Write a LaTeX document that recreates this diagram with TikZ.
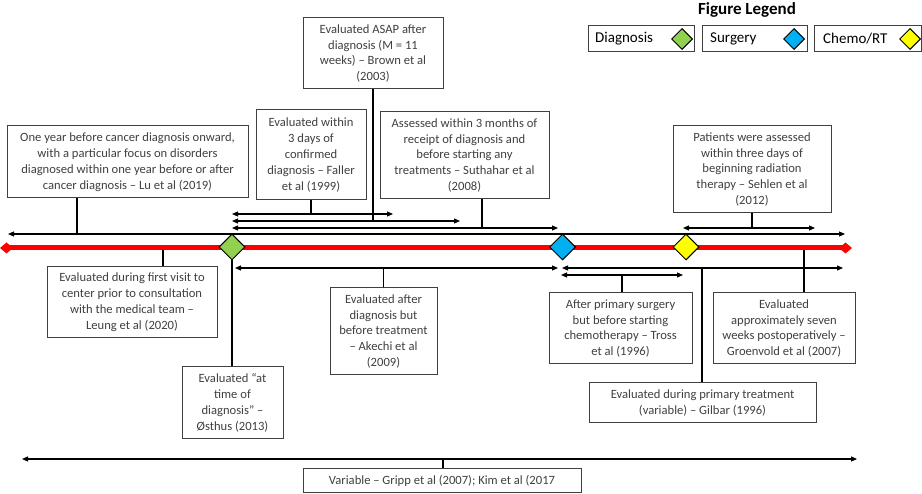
\documentclass[tikz,border=0pt]{standalone}
\usepackage{fontspec}
\setmainfont{Carlito}
\usetikzlibrary{shapes.geometric,arrows.meta}
\definecolor{txt}{HTML}{404040}
\definecolor{dgreen}{HTML}{92D050}
\definecolor{dblue}{HTML}{00B0F0}
\definecolor{dyellow}{HTML}{FFFF00}
\definecolor{dred}{HTML}{FF0000}
\begin{document}
\begin{tikzpicture}[x=1pt,y=-1pt,
  box/.style={draw=txt, line width=1pt, fill=white, text=txt, align=center, inner sep=1pt,
              font=\fontsize{12.6}{15.9}\selectfont},
  sz/.style n args={2}{minimum width=#1pt, minimum height=#2pt},
  lbox/.style={draw=txt, line width=1pt, fill=white, inner sep=0pt},
  ltext/.style={anchor=west, inner sep=0pt, font=\fontsize{15}{18}\selectfont},
  link/.style={draw=black, line width=1.1pt},
  span/.style={link, {Triangle[length=6pt,width=5pt]}-{Triangle[length=6pt,width=5pt]}},
  ms/.style={diamond, draw=black, line width=1pt, minimum width=26pt, minimum height=26pt, inner sep=0pt},
  lms/.style={diamond, draw=black, line width=1pt, minimum width=21pt, minimum height=21pt, inner sep=0pt},
]
\useasboundingbox (0,0) rectangle (922,494);

% ---- coordinates for spans ----
\coordinate (mainL) at (8,234);   \coordinate (mainR) at (845,234);
\coordinate (faL) at (232,214);   \coordinate (faR) at (393,214);
\coordinate (brL) at (232,221);   \coordinate (brR) at (460,221);
\coordinate (suL) at (232,228);   \coordinate (suR) at (558,228);
\coordinate (seL) at (683,228);   \coordinate (seR) at (815,228);
\coordinate (akL) at (235,268);   \coordinate (akR) at (558,268);
\coordinate (giL) at (562,268);   \coordinate (giR) at (843,268);
\coordinate (trL) at (561,275);   \coordinate (trR) at (683,275);
\coordinate (gpL) at (22,459);    \coordinate (gpR) at (857,459);
\coordinate (redL) at (0,248);    \coordinate (redR) at (852,248);
\coordinate (luX) at (77,234);
\coordinate (suX) at (482,228);
\coordinate (leX) at (163,248);
\coordinate (grX) at (804,248);
\coordinate (trX) at (622,275);
\coordinate (giX) at (702,268);
\coordinate (gpX) at (443,459);

% ---- boxes ----
\node[box, sz={241}{72}] (lu) at (127.5,162) {One year before cancer diagnosis onward,\\with a particular focus on disorders\\diagnosed within one year before or after\\cancer diagnosis – Lu et al (2019)};
\node[box, sz={110}{90}] (faller) at (311,155) {Evaluated within\\3 days of\\confirmed\\diagnosis – Faller\\et al (1999)};
\node[box, sz={140}{71}] (brown) at (373,53.5) {Evaluated ASAP after\\diagnosis (M = 11\\weeks) – Brown et al\\(2003)};
\node[box, sz={169}{87}] (suth) at (464.5,155.5) {Assessed within 3 months of\\receipt of diagnosis and\\before starting any\\treatments – Suthahar et al\\(2008)};
\node[box, sz={158}{87}] (sehlen) at (752,169.5) {Patients were assessed\\within three days of\\beginning radiation\\therapy – Sehlen et al\\(2012)};
\node[box, sz={170}{71}] (leung) at (132,302.5) {Evaluated during first visit to\\center prior to consultation\\with the medical team –\\Leung et al (2020)};
\node[box, sz={101}{72}] (osthus) at (232.5,403) {Evaluated “at\\time of\\diagnosis” –\\Østhus (2013)};
\node[box, sz={107}{87}] (akechi) at (383.5,331.5) {Evaluated after\\diagnosis but\\before treatment\\– Akechi et al\\(2009)};
\node[box, sz={143}{71}] (tross) at (620.5,328.5) {After primary surgery\\but before starting\\chemotherapy – Tross\\et al (1996)};
\node[box, sz={142}{71}] (groen) at (784,328.5) {Evaluated\\approximately seven\\weeks postoperatively –\\Groenvold et al (2007)};
\node[box, sz={227}{40}] (gilbar) at (702.5,403) {Evaluated during primary treatment\\(variable) – Gilbar (1996)};
\node[box, sz={278}{24}] (gripp) at (442,481) {Variable – Gripp et al (2007); Kim et al (2017};

% ---- spans ----
\draw[span] (mainL) -- (mainR);
\draw[span] (faL) -- (faR);
\draw[span] (brL) -- (brR);
\draw[span] (suL) -- (suR);
\draw[span] (seL) -- (seR);
\draw[span] (akL) -- (akR);
\draw[span] (giL) -- (giR);
\draw[span] (trL) -- (trR);
\draw[span] (gpL) -- (gpR);

% ---- connectors ----
\draw[link] (lu.south -| luX) -- (luX);
\draw[link] (faller.south) -- (faller.south |- faL);
\draw[link] (brown.south) -- (brown.south |- brL);
\draw[link] (suth.south -| suX) -- (suX);
\draw[link] (sehlen.south) -- (sehlen.south |- seL);
\draw[link] (leX) -- (leung.north -| leX);
\draw[link] (akechi.north) -- (akechi.north |- akL);
\draw[link] (trX) -- (tross.north -| trX);
\draw[link] (grX) -- (groen.north -| grX);
\draw[link] (giX) -- (gilbar.north -| giX);
\draw[link] (gpX) -- (gripp.north -| gpX);

% ---- red timeline ----
\draw[dred, line width=5pt, {Diamond[length=13pt,width=11pt]}-{Diamond[length=13pt,width=11pt]}] (redL) -- (redR);

% ---- milestones ----
\node[ms, fill=dgreen] (dg) at (232,247) {};
\node[ms, fill=dblue] (db) at (562.5,247) {};
\node[ms, fill=dyellow] (dy) at (686,247) {};
\draw[link] (dg.south) -- (osthus.north -| dg.south);

% ---- legend ----
\node[font=\bfseries\fontsize{17}{20}\selectfont, inner sep=0pt] (legtitle) at (747,10) {Figure Legend};
\node[lbox, sz={106}{26}] (lgD) at (641,39) {};
\node[lbox, sz={105}{26}] (lgS) at (754.5,39) {};
\node[lbox, sz={107}{26}] (lgC) at (867.5,39) {};
\node[ltext] (ltD) at (595,39) {Diagnosis};
\node[ltext] (ltS) at (710,39) {Surgery};
\node[ltext] (ltC) at (823,39) {Chemo/RT};
\node[lms, fill=dgreen] (lmD) at (682,39) {};
\node[lms, fill=dblue] (lmS) at (794,39) {};
\node[lms, fill=dyellow] (lmC) at (910,39) {};
\end{tikzpicture}
\end{document}
